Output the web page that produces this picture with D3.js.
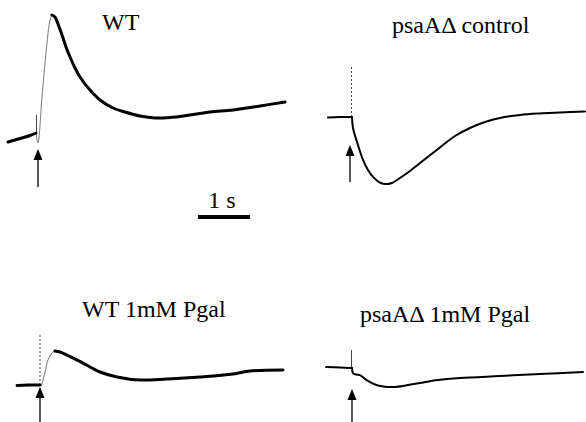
<!DOCTYPE html>
<html><head><meta charset="utf-8">
<script src="https://cdn.jsdelivr.net/npm/d3@7"></script>
<style>html,body{margin:0;padding:0;background:#fff}svg{display:block}</style>
</head><body><svg id="c" width="586" height="422"></svg>
<script>
// ---- data: time (s, relative to flash) and signal (relative units, WT peak = 100) ----
const panelTitles = ["WT", "psaA\u0394 control", "WT 1mM Pgal", "psaA\u0394 1mM Pgal"];
const scaleBarLabel = "1 s";
const scaleBarSeconds = 1;

// WT
const wtPreTime  = [-0.558, -0.423, -0.288, -0.135, -0.019];
const wtPreSig   = [-7.6, -5.9, -4.2, -2.1, 0];
const wtRiseTime = [-0.019, 0.019, 0.096, 0.192, 0.25, 0.288];
const wtRiseSig  = [0, -8.5, 30.5, 76.3, 95.8, 100];
const wtPostTime = [0.288, 0.346, 0.404, 0.481, 0.558, 0.635, 0.731, 0.827, 1.019, 1.212, 1.462, 1.692, 1.981, 2.269, 2.558, 2.942, 3.327, 3.769, 4.288, 4.769];
const wtPostSig  = [100, 98.3, 92.4, 83.1, 72.9, 64.4, 55.1, 47.5, 36.4, 28.0, 21.2, 17.8, 14.4, 12.7, 13.1, 15.3, 17.8, 19.5, 22.9, 26.3];
const wtSpike = 15.3;

// psaA-delta control
const psaPreTime  = [-0.462, -0.231, 0];
const psaPreSig   = [-0.4, 0, 0];
const psaRiseTime = [];
const psaRiseSig  = [];
const psaPostTime = [0, 0.019, 0.115, 0.212, 0.308, 0.404, 0.519, 0.635, 0.769, 0.865, 1.115, 1.308, 1.654, 1.981, 2.269, 2.558, 2.846, 3.231, 3.615, 4.0, 4.481];
const psaPostSig  = [0, -9.3, -23.7, -36.4, -44.9, -50.8, -55.1, -56.8, -55.9, -53.4, -45.8, -39.0, -27.1, -16.1, -9.3, -4.2, -0.8, 1.7, 3.0, 3.8, 4.7];
const psaSpike = 42.4;

// WT + 1mM Pgal
const wtpPreTime  = [-0.452, -0.24, -0.01];
const wtpPreSig   = [-0.4, 0, 0];
const wtpRiseTime = [-0.01, 0.01, 0.048, 0.106, 0.144, 0.221, 0.279];
const wtpRiseSig  = [0, -0.8, 4.2, 14.4, 21.2, 27.1, 28.8];
const wtpPostTime = [0.279, 0.375, 0.51, 0.663, 0.817, 0.99, 1.144, 1.471, 1.913, 2.433, 3.067, 3.702, 4.029, 4.663];
const wtpPostSig  = [28.8, 28.0, 25.4, 22.0, 18.6, 14.4, 11.0, 6.8, 4.2, 5.1, 6.8, 9.3, 11.9, 12.7];
const wtpSpike = 42.4;

// psaA-delta + 1mM Pgal
const psapPreTime  = [-0.5, -0.231, 0];
const psapPreSig   = [0.4, 0, -0.4];
const psapRiseTime = [];
const psapRiseSig  = [];
const psapPostTime = [0, 0.019, 0.077, 0.154, 0.25, 0.346, 0.5, 0.673, 0.827, 0.981, 1.308, 1.654, 2.077, 2.846, 3.615, 4.442];
const psapPostSig  = [-0.4, -4.7, -5.9, -6.4, -9.7, -12.3, -15.3, -16.5, -16.5, -15.7, -13.1, -10.6, -8.9, -7.2, -5.5, -3.8];
const psapSpike = 14.8;

// ---- layout ----
const PX_PER_S = 52, PX_PER_UNIT = 1.18;
const panels = [
  {title: panelTitles[0], fx: 37, by: 133, tx: 102, ty: 30, ax: 38, aTip: 149, aBot: 187, w: 3,
   pre: [wtPreTime, wtPreSig], rise: [wtRiseTime, wtRiseSig], post: [wtPostTime, wtPostSig], spike: wtSpike, spikeDash: null},
  {title: panelTitles[1], fx: 352, by: 117, tx: 392, ty: 33, ax: 350, aTip: 145, aBot: 182, w: 2,
   pre: [psaPreTime, psaPreSig], rise: [psaRiseTime, psaRiseSig], post: [psaPostTime, psaPostSig], spike: psaSpike, spikeDash: "2,2"},
  {title: panelTitles[2], fx: 40.5, by: 385, tx: 82, ty: 317, ax: 40, aTip: 387, aBot: 422, w: 3,
   pre: [wtpPreTime, wtpPreSig], rise: [wtpRiseTime, wtpRiseSig], post: [wtpPostTime, wtpPostSig], spike: wtpSpike, spikeDash: "2,2"},
  {title: panelTitles[3], fx: 352, by: 367.5, tx: 360, ty: 322, ax: 352, aTip: 389, aBot: 422, w: 2,
   pre: [psapPreTime, psapPreSig], rise: [psapRiseTime, psapRiseSig], post: [psapPostTime, psapPostSig], spike: psapSpike, spikeDash: null}
];

const svg = d3.select("#c");
const font = "'Liberation Serif','Times New Roman',serif";
const FS = 24;

panels.forEach(p => {
  const x = d3.scaleLinear().domain([0, 1]).range([p.fx, p.fx + PX_PER_S]);
  const y = d3.scaleLinear().domain([0, 100]).range([p.by, p.by - 100 * PX_PER_UNIT]);
  const line = d3.line().x(d => x(d[0])).y(d => y(d[1])).curve(d3.curveCatmullRom.alpha(0.5));
  const zip = (a) => a[0].map((t, i) => [t, a[1][i]]);
  const g = svg.append("g");

  // flash artifact spike
  g.append("line")
    .attr("x1", x(0) - 0.5).attr("x2", x(0) - 0.5)
    .attr("y1", y(0)).attr("y2", y(p.spike))
    .attr("stroke", "#444").attr("stroke-width", 1)
    .attr("stroke-dasharray", p.spikeDash);

  // fast rising phase: thin grey
  if (p.rise[0].length) {
    g.append("path").attr("d", line(zip(p.rise)))
      .attr("fill", "none").attr("stroke", "#777").attr("stroke-width", 1);
  }
  // pre-flash and post-flash trace
  [p.pre, p.post].forEach(seg => {
    g.append("path").attr("d", line(zip(seg)))
      .attr("fill", "none").attr("stroke", "#000")
      .attr("stroke-width", p.w).attr("stroke-linejoin", "round").attr("stroke-linecap", "round");
  });

  // arrow
  g.append("line").attr("x1", p.ax).attr("x2", p.ax).attr("y1", p.aTip + 8).attr("y2", p.aBot)
    .attr("stroke", "#000").attr("stroke-width", 1.3);
  g.append("path")
    .attr("d", `M${p.ax},${p.aTip} L${p.ax - 4.5},${p.aTip + 11} L${p.ax + 4.5},${p.aTip + 11} Z`)
    .attr("fill", "#000");

  // title
  g.append("text").attr("x", p.tx).attr("y", p.ty).text(p.title)
    .attr("font-family", font).attr("font-size", FS).attr("fill", "#000");
});

// scale bar (1 s)
const sx = d3.scaleLinear().domain([0, 1]).range([198, 198 + PX_PER_S]);
svg.append("rect").attr("x", sx(0)).attr("y", 215).attr("width", sx(scaleBarSeconds) - sx(0)).attr("height", 4).attr("fill", "#000");
svg.append("text").attr("x", (sx(0) + sx(scaleBarSeconds)) / 2 - 2).attr("y", 208).attr("text-anchor", "middle")
  .text(scaleBarLabel).attr("font-family", font).attr("font-size", FS).attr("fill", "#000");
</script></body></html>
